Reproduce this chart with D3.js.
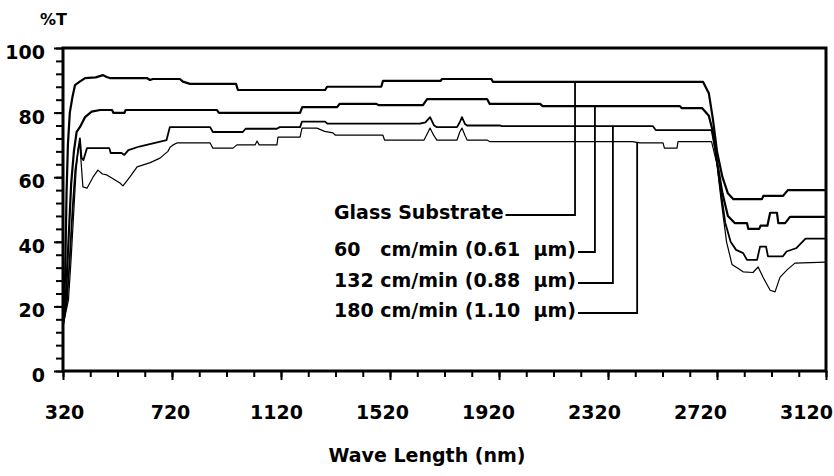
<!DOCTYPE html>
<html lang="en">
<head>
    <meta charset="UTF-8">
    <script src="https://cdn.jsdelivr.net/npm/d3@7"></script>
    <title>%T vs Wave Length</title>
    <style>
        body { margin: 0; background: #fff; }
        text {
            font-family: "DejaVu Sans", sans-serif;
            font-weight: bold;
            fill: #000;
        }
        .curve { fill: none; stroke: #000; stroke-linejoin: round; }
    </style>
</head>
<body>
    <div id="chart"></div>

    <script>
        // tick values
        const xTicks = [320, 720, 1120, 1520, 1920, 2320, 2720, 3120];
        const yTicks = [0, 20, 40, 60, 80, 100];

        // legend text and the wavelength (nm) where each leader meets its curve
        const legendLabels = [
            "Glass Substrate",
            "60   cm/min (0.61  \u00b5m)",
            "132 cm/min (0.88  \u00b5m)",
            "180 cm/min (1.10  \u00b5m)"
        ];
        const leaderNm = [2199, 2272, 2338, 2427];

        // [wavelength nm, %T]
        const glass = [[320,16],[328,30],[333,55],[338,70],[345,80],[355,85],[364,88.5],[380,89.5],[401,90.7],[440,90.9],[467,91.6],[480,91],[492,90.7],[628,90.7],[639,90.1],[650,90.4],[749,90.4],[760,89.6],[786,88.9],[955,88.9],[962,87],[1282,87],[1289,88],[1488,88],[1494,89.8],[1705,89.8],[1711,90.4],[1892,90.4],[1898,89.5],[2669,89.5],[2690,86],[2705,78],[2720,68],[2740,60],[2760,55],[2780,53.2],[2885,53.2],[2890,54.2],[2962,54.2],[2980,56],[3120,56]];

        const cm60 = [[320,15],[330,22],[340,40],[350,58],[360,68],[370,74],[382,75.5],[401,78.6],[425,80.3],[456,80.8],[500,80.8],[505,79.9],[545,79.9],[550,80.8],[885,80.8],[892,79.9],[1190,79.9],[1198,81.7],[1326,81.7],[1335,82.7],[1470,82.7],[1478,82.3],[1641,82.3],[1656,84.2],[1876,84.2],[1886,82.7],[2071,82.7],[2080,82],[2584,82],[2590,81.4],[2665,81.4],[2690,79],[2705,74],[2720,65],[2740,55],[2760,48],[2785,45.8],[2830,45.8],[2835,44],[2875,44],[2880,45],[2905,45],[2915,49],[2940,49],[2945,45.8],[2970,45.8],[2988,47.7],[3120,47.7]];

        const cm132 = [[320,14],[335,22],[345,35],[355,50],[365,62],[375,68],[382,72],[388,66],[395,65.3],[408,69],[490,69],[495,67.5],[535,67.5],[545,66.9],[560,68.4],[600,69.5],[650,70.5],[700,71.5],[712,75.5],[860,75.5],[870,74],[980,74],[990,75],[1105,75],[1115,75.5],[1190,75.5],[1197,77.2],[1282,77.2],[1290,76.6],[1630,76.6],[1650,77],[1667,78.6],[1682,76],[1692,75.5],[1766,75.5],[1776,77],[1784,78.6],[1795,76.5],[1803,76],[1924,76],[1930,75.8],[2485,75.8],[2495,74.6],[2700,74.6],[2715,68],[2730,58],[2750,46],[2770,40],[2790,37.5],[2816,36.5],[2830,34.4],[2867,34.4],[2878,38.5],[2900,38.5],[2907,35.5],[2962,35.5],[2975,37],[3010,38],[3045,41],[3120,41]];

        const cm180 = [[320,14],[340,22],[350,35],[360,50],[368,62],[376,69],[382,70],[387,64],[393,57],[408,56.6],[430,60],[448,62.2],[465,61],[481,60.7],[529,58.2],[540,57.3],[565,60],[592,63.2],[640,64.5],[676,65.9],[705,68],[713,69.3],[724,70],[738,70.6],[860,70.6],[870,69],[944,69],[958,70],[1025,70],[1032,71.2],[1040,70],[1105,70],[1109,72.4],[1190,72.4],[1197,75.2],[1252,75.2],[1280,74.2],[1311,73.7],[1320,73],[1494,73],[1500,71.5],[1645,71.5],[1660,74],[1667,75.2],[1680,73],[1692,71.5],[1766,71.5],[1776,74],[1784,75.2],[1795,73],[1803,71.5],[1876,71.5],[1887,71],[2410,71],[2437,70.6],[2522,70.6],[2527,69],[2573,69],[2577,71],[2700,71],[2720,64],[2735,53],[2755,40],[2775,33],[2795,31.9],[2816,30.7],[2852,30.5],[2871,32.2],[2889,29],[2915,25],[2933,24.5],[2951,29],[2977,31.3],[3006,33.4],[3120,33.7]];

        const series = [glass, cm60, cm132, cm180];
        const widths = [2.2, 2.2, 1.8, 1.2];

        const width = 834, height = 476;
        const margin = { top: 48, right: 8, bottom: 105, left: 63 };

        const svg = d3.select("#chart").append("svg")
            .attr("width", width)
            .attr("height", height);

        const x = d3.scaleLinear().domain([320, 3120]).range([margin.left, width - margin.right]);
        const y = d3.scaleLinear().domain([0, 100]).range([height - margin.bottom, margin.top]);
        // tick labels in the original sit on a slightly tighter spacing than the ticks
        const xLabel = x.copy().range([margin.left + 1, width - margin.right - 20]);

        const yBottom = height - margin.bottom;

        // y axis: minor ticks every 4, labelled every 20
        svg.append("g")
            .attr("transform", `translate(${margin.left},0)`)
            .call(d3.axisLeft(y).tickValues(d3.range(0, 101, 4)).tickSize(7).tickFormat(""))
            .call(g => g.select(".domain").remove())
            .call(g => g.selectAll("line").attr("stroke-width", 2));

        svg.append("g")
            .attr("transform", `translate(${margin.left},0)`)
            .call(d3.axisLeft(y).tickValues(yTicks).tickSize(9).tickPadding(9))
            .call(g => g.select(".domain").remove())
            .call(g => g.selectAll("line").attr("stroke-width", 2))
            .call(g => g.selectAll("text")
                .attr("dy", "0.55em")
                .style("font-size", "19px")
                .style("font-family", null));

        // x axis: minor ticks every 100 nm, labelled every 400
        svg.append("g")
            .attr("transform", `translate(0,${yBottom})`)
            .call(d3.axisBottom(x).tickValues(d3.range(320, 3121, 100)).tickSize(6).tickFormat(""))
            .call(g => g.select(".domain").remove())
            .call(g => g.selectAll("line").attr("stroke-width", 2));

        svg.append("g")
            .attr("transform", `translate(0,${yBottom})`)
            .call(d3.axisBottom(x).tickValues(xTicks).tickSize(9).tickPadding(26).tickFormat(d3.format("d")))
            .call(g => g.select(".domain").remove())
            .call(g => g.selectAll("line").attr("stroke-width", 2))
            .call(g => g.selectAll("text")
                .attr("x", d => xLabel(d) - x(d))
                .style("font-size", "19px")
                .style("font-family", null));

        // frame
        svg.append("rect")
            .attr("x", margin.left)
            .attr("y", margin.top)
            .attr("width", width - margin.left - margin.right)
            .attr("height", yBottom - margin.top)
            .attr("fill", "none")
            .attr("stroke", "#000")
            .attr("stroke-width", 3);

        // curves
        const line = d3.line().x(d => x(d[0])).y(d => y(d[1]));
        svg.selectAll(".curve")
            .data(series)
            .join("path")
            .attr("class", "curve")
            .attr("stroke-width", (d, i) => widths[i])
            .attr("d", line);

        // value of a curve at a wavelength
        function valueAt(s, nm) {
            const i = d3.bisector(d => d[0]).left(s, nm);
            if (i <= 0) return s[0][1];
            if (i >= s.length) return s[s.length - 1][1];
            const a = s[i - 1], b = s[i];
            return a[1] + (b[1] - a[1]) * (nm - a[0]) / (b[0] - a[0]);
        }

        // legend with leader lines
        const legendX = 334;
        const baselines = [219, 256, 287, 317];
        legendLabels.forEach((label, i) => {
            const t = svg.append("text")
                .attr("x", legendX)
                .attr("y", baselines[i])
                .attr("xml:space", "preserve")
                .style("white-space", "pre")
                .style("font-size", "19px")
                .text(label);
            const end = legendX + t.node().getComputedTextLength() + 2;
            const lx = x(leaderNm[i]);
            const ly = baselines[i] - 4;
            svg.append("path")
                .attr("d", `M${end},${ly}H${lx}V${y(valueAt(series[i], leaderNm[i]))}`)
                .attr("fill", "none")
                .attr("stroke", "#000")
                .attr("stroke-width", 1.8);
        });

        // axis titles
        svg.append("text")
            .attr("x", 40)
            .attr("y", 25)
            .style("font-size", "16px")
            .text("%T");

        svg.append("text")
            .attr("x", 427)
            .attr("y", 462)
            .attr("text-anchor", "middle")
            .style("font-size", "19px")
            .text("Wave Length (nm)");
    </script>
</body>
</html>
